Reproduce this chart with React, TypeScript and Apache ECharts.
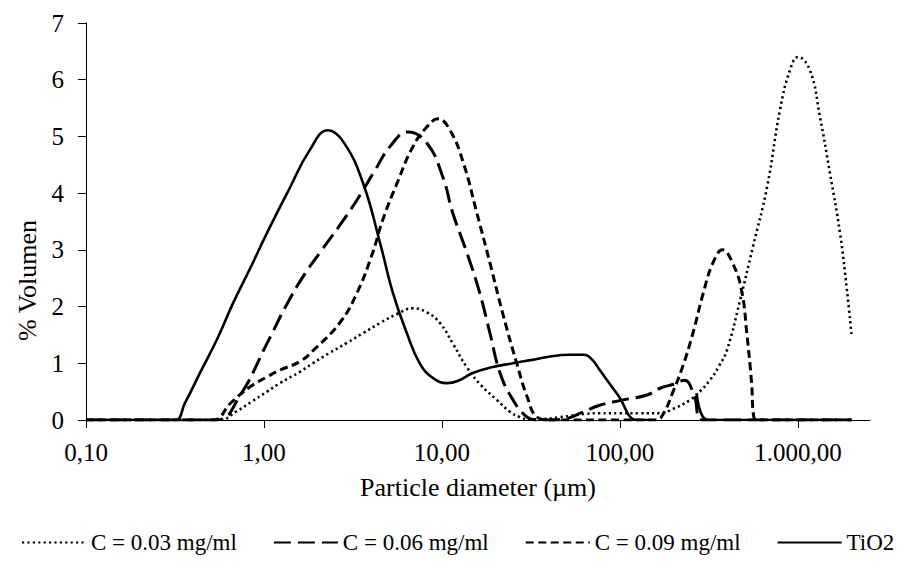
import React, { useEffect, useRef } from "react";
import * as echarts from "echarts";

// Particle diameters (µm) and % volume values per series
const diamC003 = [0.1, 0.3, 0.566, 0.7, 0.85, 1.04, 1.23, 1.59, 1.88, 2.3, 2.92, 3.6, 4.49, 5.6, 6.87, 8.2, 9.75, 11.5, 13.8, 16.5, 20.4, 24, 27.4, 31, 38, 46, 55, 65, 77, 100, 130, 168, 200, 247, 280, 320, 360, 399, 472, 558, 670, 793, 902, 1000, 1167, 1330, 1513, 1722, 1885, 2000];
const volC003 = [0, 0, 0, 0.15, 0.32, 0.5, 0.65, 0.85, 1.0, 1.17, 1.36, 1.53, 1.71, 1.87, 1.97, 1.9, 1.71, 1.35, 0.93, 0.62, 0.35, 0.15, 0.05, 0.01, 0.02, 0.05, 0.08, 0.11, 0.12, 0.12, 0.12, 0.12, 0.2, 0.35, 0.5, 0.7, 0.95, 1.23, 2.1, 3.05, 4.1, 5.47, 6.17, 6.4, 6.17, 5.34, 4.35, 3.3, 2.29, 1.5];

const diamC006 = [0.1, 0.3, 0.545, 0.73, 1.04, 1.35, 1.7, 2.14, 2.7, 3.33, 4.2, 5.1, 6.44, 8.24, 10.1, 11.5, 13.8, 16.3, 18.6, 21.2, 25.1, 30.1, 34, 40, 49, 60, 77, 103, 142, 168, 200, 230, 260, 290, 400, 1000, 2000];
const volC006 = [0, 0, 0, 0.42, 1.35, 2.05, 2.58, 3.02, 3.46, 3.88, 4.4, 4.82, 5.08, 4.88, 4.29, 3.65, 2.95, 2.24, 1.53, 0.83, 0.35, 0.05, 0, 0, 0.02, 0.12, 0.26, 0.35, 0.44, 0.56, 0.63, 0.7, 0.45, 0, 0, 0, 0];

const diamC009 = [0.1, 0.3, 0.52, 0.65, 0.83, 1.04, 1.23, 1.59, 1.88, 2.66, 3.33, 4.08, 4.65, 5.6, 6.87, 8.24, 9.5, 11.1, 13.2, 15.7, 18.6, 21.9, 26.3, 30.1, 34.2, 40, 100, 160, 176, 197, 225, 257, 294, 333, 377, 429, 482, 516, 549, 565, 600, 1000, 2000];
const volC009 = [0, 0, 0, 0.3, 0.58, 0.76, 0.88, 1.03, 1.22, 1.71, 2.24, 2.95, 3.53, 4.18, 4.82, 5.17, 5.31, 5.11, 4.53, 3.65, 2.77, 1.89, 1.0, 0.41, 0.05, 0, 0, 0, 0.12, 0.47, 0.94, 1.53, 2.24, 2.77, 3.0, 2.77, 2.29, 1.53, 0.65, 0.05, 0, 0, 0];

const diamTiO2 = [0.1, 0.2, 0.316, 0.36, 0.437, 0.55, 0.67, 0.85, 1.04, 1.4, 1.8, 2.29, 2.8, 3.6, 4.49, 5.3, 6.35, 7.5, 8.9, 10.7, 12.5, 14.9, 19, 25, 32, 39, 52, 63, 70, 77, 97, 125, 150, 230, 270, 313, 500, 1000, 2000];
const volTiO2 = [0, 0, 0, 0.3, 0.83, 1.45, 2.06, 2.72, 3.3, 4.1, 4.75, 5.11, 4.9, 4.18, 3.12, 2.24, 1.53, 1.0, 0.74, 0.65, 0.7, 0.83, 0.93, 1.0, 1.06, 1.11, 1.15, 1.15, 1.06, 0.88, 0.45, 0, 0, null, 0.47, 0, 0, 0, 0];

const seriesNames = ["C = 0.03 mg/ml", "C = 0.06 mg/ml", "C = 0.09 mg/ml", "TiO2"];
const xTickValues = [0.1, 1, 10, 100, 1000];
const yTickMin = 0;
const yTickMax = 7;
const xAxisMin = 0.1;
const xAxisMax = 2540;

const FONT = "Liberation Serif";

function fmtNumber(v: number): string {
  const s = v.toFixed(2);
  const [i, f] = s.split(".");
  const ii = i.replace(/\B(?=(\d{3})+(?!\d))/g, ".");
  return ii + "," + f;
}

function pairs(xs: number[], ys: (number | null)[]) {
  return xs.map((x, k) => [x, ys[k]]);
}

export default function App() {
  const ref = useRef<HTMLDivElement>(null);
  useEffect(() => {
    if (!ref.current) return;
    const chart = echarts.init(ref.current, undefined, { renderer: "svg" });
    const common = {
      type: "line",
      showSymbol: false,
      symbol: "none",
      smooth: 0.45,
      connectNulls: false,
      clip: true,
    };
    chart.setOption({
      animation: false,
      backgroundColor: "#fff",
      textStyle: { fontFamily: FONT },
      grid: { left: 86, right: 39, top: 23, bottom: 143 },
      legend: {
        data: seriesNames,
        left: 16,
        top: 526,
        itemWidth: 64,
        itemHeight: 14,
        itemGap: 36,
        itemStyle: { color: "rgba(0,0,0,0)", borderWidth: 0, opacity: 0 },
        textStyle: { fontFamily: FONT, fontSize: 23, color: "#000" },
      },
      xAxis: {
        type: "log",
        logBase: 10,
        min: xAxisMin,
        max: xAxisMax,
        name: "Particle diameter (µm)",
        nameLocation: "middle",
        nameGap: 54,
        nameTextStyle: { fontFamily: FONT, fontSize: 26, color: "#000" },
        axisLine: { lineStyle: { color: "#000", width: 1 } },
        axisTick: { show: true, length: 8, inside: false, lineStyle: { color: "#000" }, customValues: xTickValues },
        axisLabel: {
          fontFamily: FONT,
          fontSize: 25,
          color: "#000",
          margin: 20,
          customValues: xTickValues,
          formatter: (v: number) => fmtNumber(v),
        },
        splitLine: { show: false },
        minorTick: { show: false },
      },
      yAxis: {
        type: "value",
        min: yTickMin,
        max: yTickMax,
        interval: 1,
        name: "% Volumen",
        nameLocation: "middle",
        nameGap: 41,
        nameTextStyle: { fontFamily: FONT, fontSize: 26, color: "#000", padding: [0, 118, 0, 0] },
        axisLine: { show: true, lineStyle: { color: "#000", width: 1 } },
        axisTick: { show: true, length: 8, inside: false, lineStyle: { color: "#000" } },
        axisLabel: { fontFamily: FONT, fontSize: 25, color: "#000", margin: 22 },
        splitLine: { show: false },
      },
      series: [
        {
          ...common,
          name: seriesNames[0],
          data: pairs(diamC003, volC003),
          lineStyle: { color: "#000", width: 2.6, type: [2.2, 3.2], cap: "butt" },
          itemStyle: { color: "#000" },
        },
        {
          ...common,
          name: seriesNames[1],
          data: pairs(diamC006, volC006),
          lineStyle: { color: "#000", width: 3, type: [17, 7], cap: "butt" },
          itemStyle: { color: "#000" },
        },
        {
          ...common,
          name: seriesNames[2],
          data: pairs(diamC009, volC009),
          lineStyle: { color: "#000", width: 3, type: [8, 4.5], cap: "butt" },
          itemStyle: { color: "#000" },
        },
        {
          ...common,
          name: seriesNames[3],
          data: pairs(diamTiO2, volTiO2),
          lineStyle: { color: "#000", width: 2.6, type: "solid" },
          itemStyle: { color: "#000" },
        },
      ],
    });
    return () => chart.dispose();
  }, []);
  return (
    <div
      ref={ref}
      style={{ position: "fixed", left: 0, top: 0, width: 909, height: 563, background: "#fff" }}
    />
  );
}
